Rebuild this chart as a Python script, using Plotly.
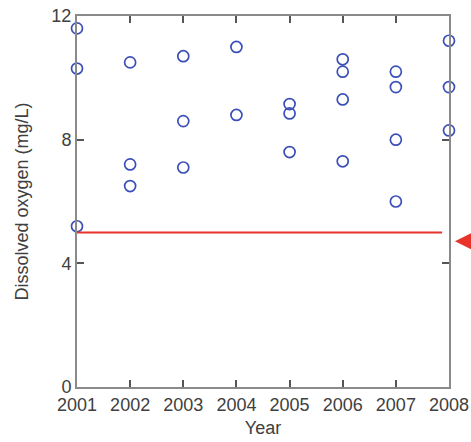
import plotly.graph_objects as go

# Dissolved oxygen samples per year (mg/L)
years_2001 = [11.6, 10.3, 5.2]
years_2002 = [10.5, 7.2, 6.5]
years_2003 = [10.7, 8.6, 7.1]
years_2004 = [11.0, 8.8]
years_2005 = [9.15, 8.85, 7.6]
years_2006 = [10.6, 10.2, 9.3, 7.3]
years_2007 = [10.2, 9.7, 8.0, 6.0]
years_2008 = [11.2, 9.7, 8.3]

samples = {
    2001: years_2001, 2002: years_2002, 2003: years_2003, 2004: years_2004,
    2005: years_2005, 2006: years_2006, 2007: years_2007, 2008: years_2008,
}

year_ticks = [2001, 2002, 2003, 2004, 2005, 2006, 2007, 2008]
do_ticks = [0, 4, 8, 12]
threshold = 5  # minimum dissolved oxygen standard (mg/L)

xs, ys = [], []
for yr, vals in samples.items():
    xs += [yr] * len(vals)
    ys += vals

axis_gray = "#8a8a8a"
text_gray = "#404040"
font_family = "Liberation Sans, Arial, sans-serif"

fig = go.Figure()
fig.add_trace(go.Scatter(
    x=xs, y=ys, mode="markers", cliponaxis=False,
    marker=dict(symbol="circle-open", size=11, color="#3b4fb8",
                line=dict(width=1.7, color="#3b4fb8")),
    showlegend=False,
))

fig.add_shape(type="line", xref="x", yref="y",
              x0=2001, x1=2007.87, y0=threshold, y1=threshold,
              line=dict(color="#e8332b", width=2))

# pointer on the right edge marking the threshold
fig.add_shape(type="path", xref="paper", yref="paper",
              path="M 1.016 0.393 L 1.06 0.415 L 1.06 0.371 Z",
              fillcolor="#e8332b", line=dict(width=0))

axis_common = dict(
    showline=True, linecolor=axis_gray, linewidth=2, mirror="allticks",
    ticks="inside", ticklen=7, tickwidth=1.5, tickcolor="#555555",
    showgrid=False, zeroline=False, automargin=False,
    tickfont=dict(family=font_family, size=18, color=text_gray),
)

fig.update_xaxes(range=[2001, 2008], tickvals=year_ticks,
                 ticktext=[str(v) for v in year_ticks],
                 title=dict(text="Year", standoff=8,
                            font=dict(family=font_family, size=18, color=text_gray)),
                 **axis_common)
fig.update_yaxes(range=[0, 12], tickvals=do_ticks,
                 ticktext=[str(v) for v in do_ticks],
                 title=dict(text="Dissolved oxygen (mg/L)", standoff=18,
                            font=dict(family=font_family, size=18, color=text_gray)),
                 **axis_common)

fig.update_layout(
    width=471, height=442,
    margin=dict(l=77, r=22, t=16, b=55),
    plot_bgcolor="white", paper_bgcolor="white",
)

fig.write_html("out.html")
